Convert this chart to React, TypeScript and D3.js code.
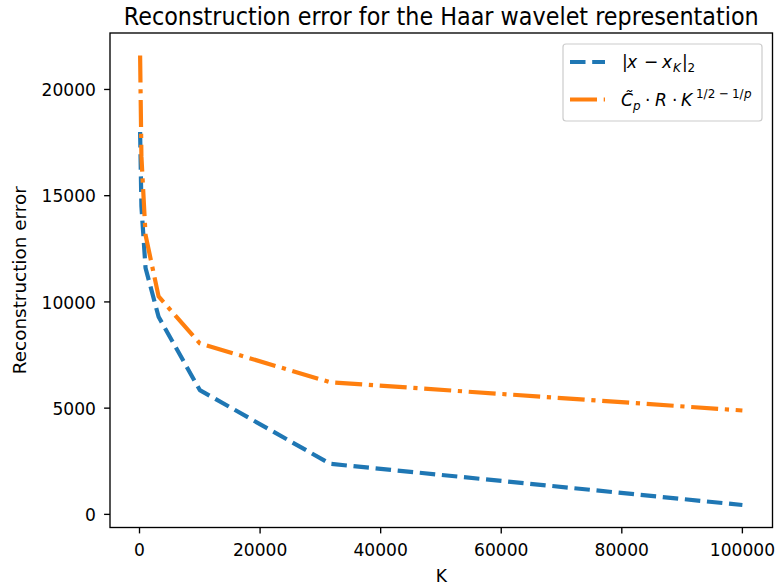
import React from "react";
import * as d3 from "d3";

// Number of kept Haar coefficients K and the two error curves
const kValues = [100, 316, 1000, 3162, 10000, 31623, 100000];
const errorNorm = [18000, 14500, 11600, 9300, 5850, 2380, 440];
const errorBound = [21600, 16850, 13150, 10260, 8050, 6220, 4890];
const xTicks = [0, 20000, 40000, 60000, 80000, 100000];
const yTicks = [0, 5000, 10000, 15000, 20000];

const W = 777;
const H = 588;
const box = { left: 110, right: 772.5, top: 33, bottom: 527.5 };
const FONT = "DejaVu Sans, sans-serif";
const FS = 18.4;
const XS = 0.93; // glyphs are slightly narrower than tall
const BLUE = "#1f77b4";
const ORANGE = "#ff7f0e";

function padded(ext: [number, number]): [number, number] {
  const r = ext[1] - ext[0];
  return [ext[0] - 0.05 * r, ext[1] + 0.05 * r];
}

function Label(props: {
  x: number;
  y: number;
  size: number;
  anchor?: "start" | "middle" | "end";
  rotate?: number;
  dy?: string;
  children: React.ReactNode;
}) {
  const { x, y, size, anchor = "start", rotate = 0, dy, children } = props;
  return (
    <g transform={`translate(${x},${y}) scale(${XS},1) rotate(${rotate})`}>
      <text x={0} y={0} dy={dy} fontSize={size} textAnchor={anchor} fill="#000">
        {children}
      </text>
    </g>
  );
}

export default function App() {
  const xExt = d3.extent(kValues) as [number, number];
  const yExt = d3.extent([...errorNorm, ...errorBound]) as [number, number];
  const x = d3.scaleLinear().domain(padded(xExt)).range([box.left, box.right]);
  const y = d3.scaleLinear().domain(padded(yExt)).range([box.bottom, box.top]);

  const line = d3
    .line<[number, number]>()
    .x((d) => x(d[0]))
    .y((d) => y(d[1]));

  const normPath = line(kValues.map((k, i) => [k, errorNorm[i]]) as [number, number][]) || "";
  const boundPath = line(kValues.map((k, i) => [k, errorBound[i]]) as [number, number][]) || "";

  const lw = 4.2;
  const tickLen = 5.9;
  const spineW = 1.35;

  // legend layout
  const lg = { x: 563, y: 44, w: 199, h: 77 };
  const sub = FS * 0.7;
  const tx0 = 623;
  const lx = (v: number) => (v - tx0) / XS;

  return (
    <svg width={W} height={H} style={{ display: "block", position: "absolute", left: 0, top: 0 }} fontFamily={FONT}>
      <rect x={0} y={0} width={W} height={H} fill="#ffffff" />

      {/* title */}
      <Label x={(box.left + box.right) / 2} y={25} size={24} anchor="middle">
        Reconstruction error for the Haar wavelet representation
      </Label>

      {/* curves */}
      <g fill="none" strokeWidth={lw} strokeLinejoin="round">
        <path d={normPath} stroke={BLUE} strokeDasharray="15.5 6.7" />
        <path d={boundPath} stroke={ORANGE} strokeDasharray="27 6.7 4.2 6.7" />
      </g>

      {/* frame */}
      <rect
        x={box.left}
        y={box.top}
        width={box.right - box.left}
        height={box.bottom - box.top}
        fill="none"
        stroke="#000"
        strokeWidth={spineW}
      />

      {/* x axis */}
      <g>
        {xTicks.map((t) => (
          <g key={t}>
            <line x1={x(t)} x2={x(t)} y1={box.bottom} y2={box.bottom + tickLen} stroke="#000" strokeWidth={spineW} />
            <Label x={x(t)} y={555.5} size={FS} anchor="middle">
              {t}
            </Label>
          </g>
        ))}
        <Label x={(box.left + box.right) / 2} y={582} size={FS} anchor="middle">
          K
        </Label>
      </g>

      {/* y axis */}
      <g>
        {yTicks.map((t) => (
          <g key={t}>
            <line x1={box.left - tickLen} x2={box.left} y1={y(t)} y2={y(t)} stroke="#000" strokeWidth={spineW} />
            <Label x={box.left - 14} y={y(t)} size={FS} anchor="end" dy="0.36em">
              {t}
            </Label>
          </g>
        ))}
        <Label x={25.5} y={(box.top + box.bottom) / 2} size={FS} anchor="middle" rotate={-90}>
          Reconstruction error
        </Label>
      </g>

      {/* legend */}
      <g>
        <rect
          x={lg.x}
          y={lg.y}
          width={lg.w}
          height={lg.h}
          rx={3}
          fill="#ffffff"
          fillOpacity={0.8}
          stroke="#cccccc"
          strokeWidth={1.2}
        />
        <line x1={570} x2={605} y1={62} y2={62} stroke={BLUE} strokeWidth={lw} strokeDasharray="15.5 6.7" />
        <line x1={570} x2={605} y1={99.5} y2={99.5} stroke={ORANGE} strokeWidth={lw} strokeDasharray="27 6.7 4.2 6.7" />

        <g transform={`translate(${tx0},0) scale(${XS},1)`}>
          {/* |x − x_K|_2 */}
          <text y={68.5} fontSize={FS} fill="#000">
            <tspan x={lx(622)}>|</tspan>
            <tspan x={lx(627)} fontStyle="italic">x</tspan>
            <tspan x={lx(644)}>−</tspan>
            <tspan x={lx(662)} fontStyle="italic">x</tspan>
            <tspan x={lx(673)} dy={3.8} fontSize={sub} fontStyle="italic">K</tspan>
            <tspan x={lx(682)} dy={-3.8}>|</tspan>
            <tspan x={lx(687.5)} dy={3.8} fontSize={sub}>2</tspan>
          </text>

          {/* C̃_p · R · K^{1/2 − 1/p} */}
          <text y={106} fontSize={FS} fill="#000">
            <tspan x={lx(621)} fontStyle="italic">{"C\u0303"}</tspan>
            <tspan x={lx(633)} dy={3.8} fontSize={sub} fontStyle="italic">p</tspan>
            <tspan x={lx(645)} dy={-3.8}>·</tspan>
            <tspan x={lx(655)} fontStyle="italic">R</tspan>
            <tspan x={lx(672)}>·</tspan>
            <tspan x={lx(681)} fontStyle="italic">K</tspan>
            <tspan x={lx(696)} dy={-7.5} fontSize={sub}>1/2</tspan>
            <tspan x={lx(719)} fontSize={sub}>−</tspan>
            <tspan x={lx(732)} fontSize={sub}>1/</tspan>
            <tspan x={lx(744)} fontSize={sub} fontStyle="italic">p</tspan>
          </text>
        </g>
      </g>
    </svg>
  );
}
